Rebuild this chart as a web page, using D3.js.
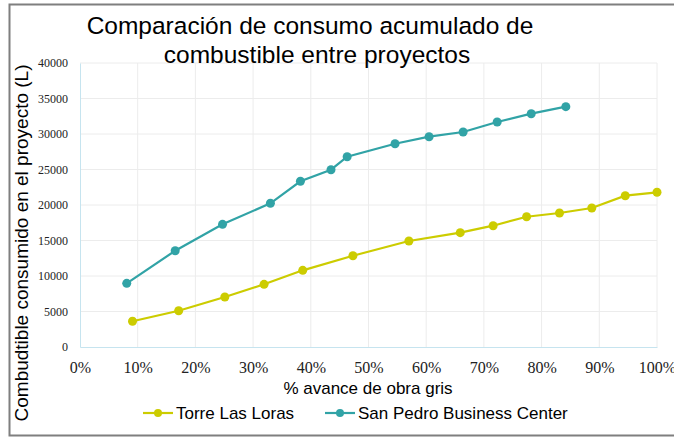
<!DOCTYPE html>
<html>
<head>
<meta charset="utf-8">
<script src="https://cdn.jsdelivr.net/npm/d3@7"></script>
<style>
  body { margin: 0; background: #fff; }
  svg { display: block; }
</style>
</head>
<body>
<div id="chart"></div>
<script>
// avance de obra gris (%) y consumo acumulado (L)
const lorasAvance = [9.1, 17.1, 25.1, 31.9, 38.6, 47.3, 57.0, 65.9, 71.6, 77.4, 83.1, 88.7, 94.5, 100];
const lorasConsumo = [3620, 5110, 7040, 8830, 10800, 12860, 14930, 16100, 17085, 18350, 18870, 19580, 21310, 21790];

const sanPedroAvance = [8.1, 16.5, 24.7, 33.0, 38.2, 43.5, 46.3, 54.6, 60.5, 66.4, 72.3, 78.2, 84.2];
const sanPedroConsumo = [8970, 13560, 17280, 20240, 23340, 24970, 26800, 28630, 29620, 30280, 31690, 32860, 33850];

const seriesNames = ["Torre Las Loras", "San Pedro Business Center"];
const seriesColors = ["#cccc00", "#31a3a6"];
const yTicks = [0, 5000, 10000, 15000, 20000, 25000, 30000, 35000, 40000];
const xTicks = [0, 10, 20, 30, 40, 50, 60, 70, 80, 90, 100];

const W = 674, H = 437;
const margin = {top: 63, right: 17, bottom: 90, left: 80};
const serif = 'Liberation Serif';
const sans = '"Liberation Sans", Arial, sans-serif';

const svg = d3.select('#chart').append('svg')
    .attr('width', W)
    .attr('height', H);

// marco exterior
svg.append('path')
    .attr('d', `M${W + 5},4.5 H9.5 V435.5 H${W + 5}`)
    .attr('fill', 'none')
    .attr('stroke', '#7f7f7f')
    .attr('stroke-width', 2);

const x = d3.scaleLinear().domain([0, 100]).range([margin.left, W - margin.right]);
const y = d3.scaleLinear().domain([0, 40000]).range([H - margin.bottom, margin.top]);

// rejilla
svg.append('g')
    .selectAll('line')
    .data(xTicks.slice(1))
    .join('line')
    .attr('x1', d => x(d)).attr('x2', d => x(d))
    .attr('y1', y(0)).attr('y2', y(40000))
    .attr('stroke', '#ececec');

svg.append('g')
    .selectAll('line')
    .data(yTicks.slice(1))
    .join('line')
    .attr('x1', x(0)).attr('x2', x(100))
    .attr('y1', d => y(d)).attr('y2', d => y(d))
    .attr('stroke', '#ececec');

// ejes
const yAxis = svg.append('g')
    .attr('transform', `translate(${x(0)},0)`)
    .call(d3.axisLeft(y).tickValues(yTicks).tickSize(0).tickPadding(12).tickFormat(d3.format('d')));
yAxis.select('.domain').attr('stroke', '#c6e4ef');
yAxis.selectAll('text')
    .attr('fill', '#222')
    .style('font-family', serif)
    .style('font-size', '12px');

const xAxis = svg.append('g')
    .attr('transform', `translate(0,${y(0)})`)
    .call(d3.axisBottom(x).tickValues(xTicks).tickSize(0).tickPadding(15).tickFormat(d => d + '%'));
xAxis.select('.domain').attr('stroke', '#c6e4ef');
xAxis.selectAll('text')
    .attr('fill', '#222')
    .style('font-family', serif)
    .style('font-size', '16px');

// líneas
const series = [
  {name: seriesNames[0], color: seriesColors[0], pts: lorasAvance.map((a, i) => [a, lorasConsumo[i]])},
  {name: seriesNames[1], color: seriesColors[1], pts: sanPedroAvance.map((a, i) => [a, sanPedroConsumo[i]])}
];

const line = d3.line().x(d => x(d[0])).y(d => y(d[1]));

series.forEach(s => {
  svg.append('path')
      .datum(s.pts)
      .attr('fill', 'none')
      .attr('stroke', s.color)
      .attr('stroke-width', 2.2)
      .attr('d', line);
  svg.append('g')
      .selectAll('circle')
      .data(s.pts)
      .join('circle')
      .attr('cx', d => x(d[0]))
      .attr('cy', d => y(d[1]))
      .attr('r', 4.5)
      .attr('fill', s.color);
});

// título
const title = svg.append('text')
    .attr('text-anchor', 'middle')
    .style('font-family', sans)
    .style('font-size', '24.5px')
    .attr('fill', '#000');
title.append('tspan').attr('x', 310).attr('y', 34).text('Comparación de consumo acumulado de');
title.append('tspan').attr('x', 317).attr('y', 63).text('combustible entre proyectos');

// títulos de ejes
svg.append('text')
    .attr('x', 368).attr('y', 394)
    .attr('text-anchor', 'middle')
    .style('font-family', sans)
    .style('font-size', '17px')
    .text('% avance de obra gris');

svg.append('text')
    .attr('transform', `translate(28,${(y(0) + y(40000)) / 2 + 38}) rotate(-90)`)
    .attr('text-anchor', 'middle')
    .style('font-family', sans)
    .style('font-size', '19px')
    .text('Combudtible consumido en el proyecto (L)');

// leyenda
const legendPos = [143, 325];
const legend = svg.append('g').attr('transform', 'translate(0,413)');
series.forEach((s, i) => {
  const g = legend.append('g').attr('transform', `translate(${legendPos[i]},0)`);
  g.append('line').attr('x1', 0).attr('x2', 30).attr('stroke', s.color).attr('stroke-width', 2.2);
  g.append('circle').attr('cx', 15).attr('r', 4).attr('fill', s.color);
  g.append('text')
      .attr('x', 33).attr('y', 6)
      .style('font-family', sans)
      .style('font-size', '17px')
      .text(s.name);
});
</script>
</body>
</html>
